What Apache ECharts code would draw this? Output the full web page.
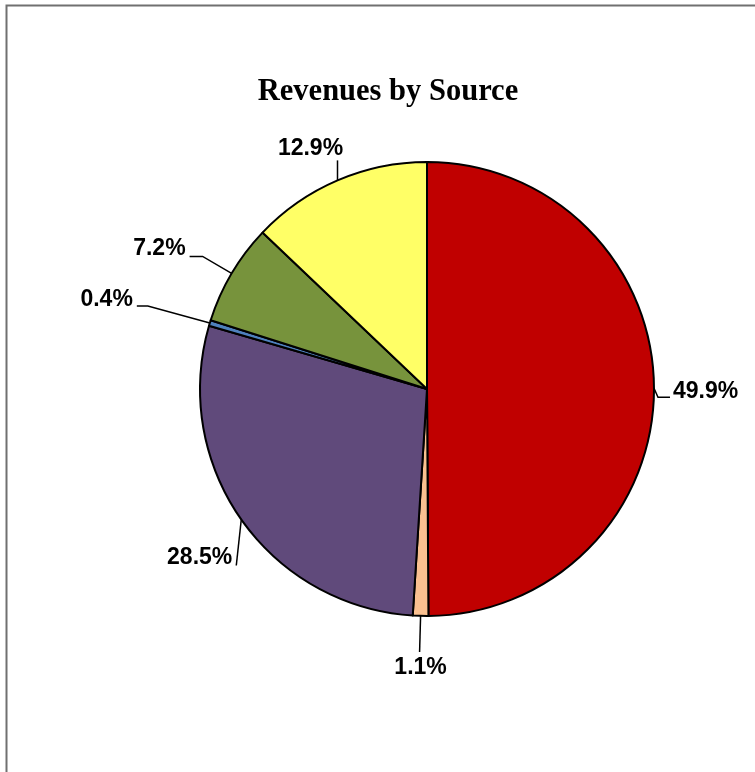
<!DOCTYPE html>
<html>
<head>
<meta charset="utf-8">
<title>Revenues by Source</title>
<script src="https://cdn.jsdelivr.net/npm/echarts@6/dist/echarts.min.js"></script>
<style>
  html, body { margin: 0; padding: 0; background: #ffffff; }
  #chart { width: 755px; height: 772px; }
</style>
</head>
<body>
<div id="chart"></div>
<script>
// Revenue shares (percent), clockwise from 12 o'clock
const categories = ['Source 1', 'Source 2', 'Source 3', 'Source 4', 'Source 5', 'Source 6'];
const shares = [49.9, 1.1, 28.5, 0.4, 7.2, 12.9];
const sliceColors = ['#C00000', '#FAC090', '#604A7B', '#4F81BD', '#77933C', '#FFFF66'];

const CENTER = [427, 389];
const RADIUS = 227;

// Leader line shape per slice: bend points relative to the slice's outer midpoint,
// then label anchor offset and alignment.
const leaderStyle = [
  { pts: [[4, 9], [16, 9]],      lab: [19, 3],    align: 'left' },
  { pts: [[-1, 36]],             lab: [0, 52],    align: 'center' },
  { pts: [[-5, 46]],             lab: [-9, 38],   align: 'right' },
  { pts: [[-62, -17], [-73, -17]], lab: [-77, -23], align: 'right' },
  { pts: [[-29, -17], [-42, -17]], lab: [-46, -25], align: 'right' },
  { pts: [[0, -20]],             lab: [-27, -32], align: 'center' }
];

// Outer midpoint of each slice, from the cumulative shares
const total = shares.reduce((a, b) => a + b, 0);
const anchors = [];
let acc = 0;
shares.forEach(v => {
  const mid = (acc + v / 2) / total * Math.PI * 2;
  anchors.push([CENTER[0] + RADIUS * Math.sin(mid), CENTER[1] - RADIUS * Math.cos(mid)]);
  acc += v;
});

const chart = echarts.init(document.getElementById('chart'), null, { renderer: 'canvas' });

chart.setOption({
  animation: false,
  backgroundColor: '#ffffff',
  title: {
    text: 'Revenues by Source',
    left: 383,
    top: 72,
    textAlign: 'center',
    textStyle: {
      fontFamily: '"Liberation Serif", "Times New Roman", serif',
      fontWeight: 'bold',
      fontSize: 30.5,
      color: '#000000'
    }
  },
  graphic: [{
    type: 'rect',
    shape: { x: 6.5, y: 5.5, width: 900, height: 900 },
    style: { fill: 'none', stroke: '#707070', lineWidth: 2 },
    silent: true
  }],
  series: [{
    type: 'pie',
    center: CENTER,
    radius: RADIUS,
    startAngle: 90,
    clockwise: true,
    avoidLabelOverlap: false,
    minAngle: 0,
    itemStyle: { borderColor: '#000000', borderWidth: 2 },
    label: {
      show: true,
      position: 'outside',
      formatter: p => shares[p.dataIndex].toFixed(1) + '%',
      fontFamily: '"Liberation Sans", Arial, sans-serif',
      fontWeight: 'bold',
      fontSize: 23,
      color: '#000000'
    },
    labelLine: {
      show: true,
      length: 10,
      length2: 10,
      smooth: false,
      lineStyle: { color: '#000000', width: 1.5 }
    },
    emphasis: { disabled: true },
    labelLayout: function (params) {
      const i = params.dataIndex;
      const a = anchors[i];
      const s = leaderStyle[i];
      const pts = [[a[0], a[1]]].concat(s.pts.map(d => [a[0] + d[0], a[1] + d[1]]));
      return {
        x: a[0] + s.lab[0],
        y: a[1] + s.lab[1],
        align: s.align,
        verticalAlign: 'middle',
        labelLinePoints: pts
      };
    },
    data: categories.map((name, i) => ({
      name: name,
      value: shares[i],
      itemStyle: { color: sliceColors[i] }
    }))
  }]
});
</script>
</body>
</html>
